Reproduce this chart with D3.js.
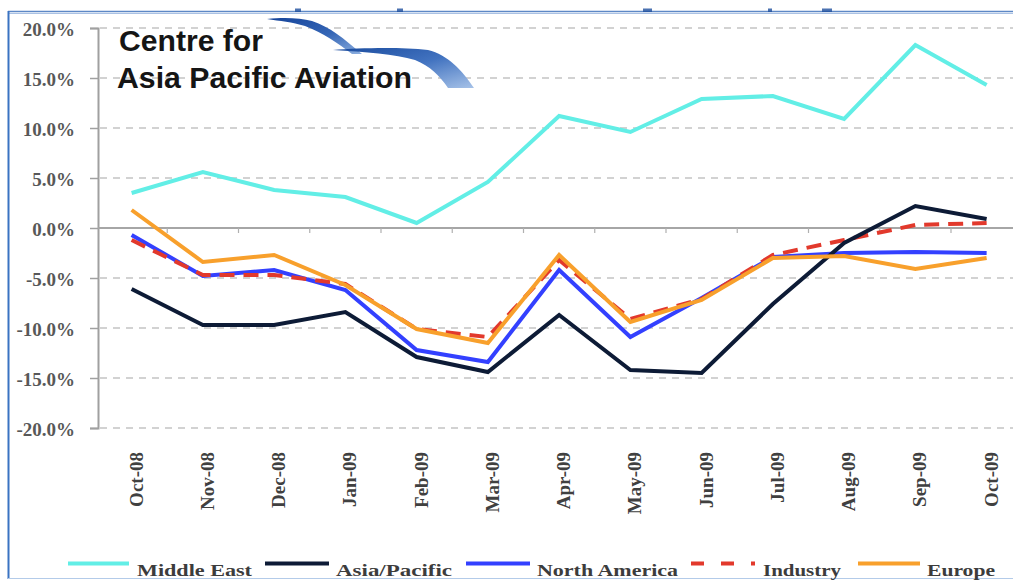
<!DOCTYPE html>
<html>
<head>
<meta charset="utf-8">
<script src="https://cdn.jsdelivr.net/npm/d3@7"></script>
<style>
  html, body { margin: 0; padding: 0; background: #fff; }
  svg { display: block; }
</style>
</head>
<body>
<svg id="chart" width="1013" height="581"></svg>
<script>
// Monthly year-on-year traffic change by region, Oct-08 to Oct-09
const months = ["Oct-08","Nov-08","Dec-08","Jan-09","Feb-09","Mar-09","Apr-09","May-09","Jun-09","Jul-09","Aug-09","Sep-09","Oct-09"];
const middleEast   = [3.5, 5.6, 3.8, 3.1, 0.5, 4.6, 11.2, 9.6, 12.9, 13.2, 10.9, 18.3, 14.3];
const asiaPacific  = [-6.1, -9.7, -9.7, -8.4, -12.9, -14.4, -8.7, -14.2, -14.5, -7.6, -1.5, 2.2, 0.9];
const northAmerica = [-0.7, -4.8, -4.2, -6.2, -12.2, -13.4, -4.2, -10.9, -7.0, -2.9, -2.5, -2.4, -2.5];
const industry     = [-1.2, -4.7, -4.7, -5.6, -10.1, -10.9, -3.2, -9.1, -7.1, -2.7, -1.2, 0.3, 0.5];
const europe       = [1.8, -3.4, -2.7, -5.7, -10.1, -11.5, -2.7, -9.4, -7.2, -3.0, -2.8, -4.1, -3.0];
const yTicks = [-20, -15, -10, -5, 0, 5, 10, 15, 20];

const seriesNames = ["Middle East", "Asia/Pacific", "North America", "Industry", "Europe"];
const seriesValues = [middleEast, asiaPacific, northAmerica, industry, europe];

const colors = {
  "Middle East": "#62eee6",
  "Asia/Pacific": "#0d1b36",
  "North America": "#3340ff",
  "Industry": "#e2392c",
  "Europe": "#f8a02c"
};
const drawOrder = ["Middle East", "North America", "Industry", "Asia/Pacific", "Europe"];

const svg = d3.select("#chart");

// Frame
svg.append("line").attr("x1", 8).attr("x2", 1013).attr("y1", 11.5).attr("y2", 11.5)
  .attr("stroke", "#5d88c6").attr("stroke-width", 1.5);
svg.append("line").attr("x1", 8).attr("x2", 1013).attr("y1", 13.5).attr("y2", 13.5)
  .attr("stroke", "#a9c1e4").attr("stroke-width", 1.2);
svg.append("line").attr("x1", 8.5).attr("x2", 8.5).attr("y1", 11).attr("y2", 579)
  .attr("stroke", "#3a73c2").attr("stroke-width", 2);
svg.append("line").attr("x1", 8).attr("x2", 1013).attr("y1", 578.5).attr("y2", 578.5)
  .attr("stroke", "#b3cbe9").attr("stroke-width", 1.2);
// small marks on the top edge
[[295, 6], [397, 6], [643, 9], [768, 4], [822, 10]].forEach(([mx, mw]) => {
  svg.append("rect").attr("x", mx).attr("y", 8.5).attr("width", mw).attr("height", 3.5)
    .attr("fill", "#1e4f9e").attr("opacity", 0.8);
});

// Scales
const x = d3.scaleBand().domain(months).range([96, 96 + 13 * 71.25]).padding(0);
const xc = d => x(d) + x.bandwidth() / 2;
const y = d3.scaleLinear().domain([-20, 20]).range([428, 28]);

// Gridlines
const grid = svg.append("g");
grid.selectAll("line").data(yTicks.filter(t => t !== 0)).join("line")
  .attr("x1", 100).attr("x2", 1013)
  .attr("y1", d => y(d)).attr("y2", d => y(d))
  .attr("stroke", "#d2d2d2").attr("stroke-width", 2)
  .attr("stroke-dasharray", "7,6");

// Y axis
const yAxis = d3.axisLeft(y).tickValues(yTicks).tickSize(8).tickPadding(15)
  .tickFormat(d => d.toFixed(1) + "%");
const yg = svg.append("g").attr("transform", "translate(98,0)").call(yAxis);
yg.select(".domain").attr("stroke", "#a0a0a0").attr("stroke-width", 2);
yg.selectAll(".tick line").attr("stroke", "#a0a0a0").attr("stroke-width", 1.5);
yg.selectAll(".tick text")
  .attr("font-family", "'Liberation Serif', 'Times New Roman', serif")
  .attr("font-weight", "bold").attr("font-size", 19).attr("fill", "#585858")
  .attr("dy", "0.38em");

// Zero line with category ticks
svg.append("line").attr("x1", 98).attr("x2", 1013).attr("y1", y(0)).attr("y2", y(0))
  .attr("stroke", "#a6a6a6").attr("stroke-width", 2);
svg.append("g").selectAll("line").data(months.slice(1)).join("line")
  .attr("x1", d => x(d)).attr("x2", d => x(d))
  .attr("y1", y(0)).attr("y2", y(0) + 5)
  .attr("stroke", "#b0b0b0").attr("stroke-width", 1.2);

// X labels
svg.append("g").selectAll("text").data(months).join("text")
  .attr("transform", d => `translate(${xc(d)},452) rotate(-90)`)
  .attr("dy", 11)
  .attr("text-anchor", "end")
  .attr("font-family", "'Liberation Serif', 'Times New Roman', serif")
  .attr("font-weight", "bold").attr("font-size", 19).attr("fill", "#404040")
  .text(d => d);

// Series lines
const line = d3.line().x((d, i) => xc(months[i])).y(d => y(d));
drawOrder.forEach(name => {
  const vals = seriesValues[seriesNames.indexOf(name)];
  svg.append("path").datum(vals)
    .attr("d", line)
    .attr("fill", "none")
    .attr("stroke", colors[name])
    .attr("stroke-width", 4)
    .attr("stroke-linejoin", "miter")
    .attr("stroke-dasharray", name === "Industry" ? "15,9" : null);
});

// Logo
const defs = svg.append("defs");
const g1 = defs.append("linearGradient").attr("id", "wingA").attr("x1", 0).attr("y1", 0).attr("x2", 1).attr("y2", 1);
g1.append("stop").attr("offset", "0%").attr("stop-color", "#15449a");
g1.append("stop").attr("offset", "55%").attr("stop-color", "#3566b6");
g1.append("stop").attr("offset", "100%").attr("stop-color", "#8eb0e0");
const g2 = defs.append("linearGradient").attr("id", "wingB").attr("x1", 0).attr("y1", 0).attr("x2", 1).attr("y2", 1);
g2.append("stop").attr("offset", "0%").attr("stop-color", "#1a4b9e");
g2.append("stop").attr("offset", "50%").attr("stop-color", "#4273c0");
g2.append("stop").attr("offset", "100%").attr("stop-color", "#a6c2e8");

svg.append("path")
  .attr("d", "M267,19 C285,17 300,18 312,21 C330,27 343,38 362,54 L352,54 C338,43 323,33 305,26 C292,22 280,21 267,19 Z")
  .attr("fill", "url(#wingA)");
svg.append("path")
  .attr("d", "M333,50 C360,48 400,47 428,50 C448,55 462,70 474,88 L448,88 C440,76 430,66 415,60 C395,54 365,52 333,50 Z")
  .attr("fill", "url(#wingB)");

const logo = svg.append("g")
  .attr("font-family", "'Liberation Sans', Arial, Helvetica, sans-serif")
  .attr("font-weight", "bold")
  .attr("font-size", 29).attr("fill", "#151515");
logo.append("text").attr("x", 119).attr("y", 51).attr("textLength", 144)
  .attr("lengthAdjust", "spacingAndGlyphs").text("Centre for");
logo.append("text").attr("x", 117).attr("y", 88).attr("textLength", 295)
  .attr("lengthAdjust", "spacingAndGlyphs").text("Asia Pacific Aviation");

// Legend
const legendItems = [
  { name: "Middle East",   x1: 68,  x2: 129, tx: 137, tw: 115 },
  { name: "Asia/Pacific",  x1: 265, x2: 329, tx: 336, tw: 116 },
  { name: "North America", x1: 466, x2: 530, tx: 537, tw: 141 },
  { name: "Industry",      x1: 691, x2: 755, tx: 763, tw: 78 },
  { name: "Europe",        x1: 858, x2: 920, tx: 927, tw: 68 }
];
const lg = svg.append("g");
legendItems.forEach(it => {
  lg.append("line").attr("x1", it.x1).attr("x2", it.x2).attr("y1", 563.5).attr("y2", 563.5)
    .attr("stroke", colors[it.name]).attr("stroke-width", 4)
    .attr("stroke-dasharray", it.name === "Industry" ? "13,17" : null);
  lg.append("text").attr("x", it.tx).attr("y", 575.5)
    .attr("textLength", it.tw).attr("lengthAdjust", "spacingAndGlyphs")
    .attr("font-family", "'Liberation Serif', 'Times New Roman', serif")
    .attr("font-weight", "bold").attr("font-size", 16).attr("fill", "#3c3c3c")
    .text(it.name);
});
</script>
</body>
</html>
